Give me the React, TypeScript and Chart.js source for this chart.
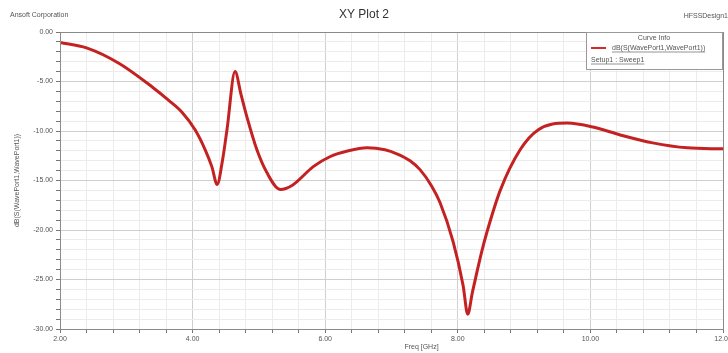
import React, { useEffect, useRef } from "react";
import { Chart, registerables } from "chart.js";

Chart.register(...registerables);

const freqGHz = [2.0, 2.4, 2.9, 3.4, 3.64, 3.84, 4.04, 4.19, 4.29, 4.37, 4.45, 4.52, 4.64, 4.73, 4.82, 4.97, 5.12, 5.32, 5.5, 5.82, 6.07, 6.35, 6.63, 6.9, 7.08, 7.28, 7.43, 7.6, 7.73, 7.93, 8.08, 8.15, 8.22, 8.29, 8.36, 8.44, 8.64, 8.94, 9.21, 9.65, 10.04, 10.45, 10.94, 11.46, 12.0];
const s11dB = [-1.05, -1.6, -3.2, -5.6, -6.9, -8.1, -9.9, -11.9, -13.6, -15.4, -13.0, -9.8, -4.0, -6.3, -8.6, -11.9, -14.2, -15.9, -15.5, -13.6, -12.6, -12.0, -11.7, -11.9, -12.3, -13.0, -13.9, -15.5, -17.2, -21.2, -25.6, -28.5, -26.3, -24.2, -22.2, -20.2, -16.0, -11.9, -9.9, -9.2, -9.6, -10.4, -11.2, -11.7, -11.8];

const chartTitle = "XY Plot 2";
const leftCorner = "Ansoft Corporation";
const rightCorner = "HFSSDesign1";
const seriesName = "dB(S(WavePort1,WavePort1))";
const setupName = "Setup1 : Sweep1";
const legendHeader = "Curve Info";
const xTitle = "Freq [GHz]";
const yTitle = "dB(S(WavePort1,WavePort1))";

const isMult = (v: number, m: number) => Math.abs(v / m - Math.round(v / m)) < 1e-6;

const decor = {
  id: "decor",
  afterDraw(chart: any) {
    const ctx = chart.ctx as CanvasRenderingContext2D;
    const a = chart.chartArea;
    ctx.save();
    ctx.strokeStyle = "#8a8a8a";
    ctx.lineWidth = 1;
    ctx.strokeRect(a.left + 0.5, a.top + 0.5, a.right - a.left, a.bottom - a.top);
    ctx.fillStyle = "#555";
    ctx.font = "7px 'Liberation Sans', Arial, sans-serif";
    ctx.textBaseline = "middle";
    ctx.textAlign = "left";
    ctx.fillText(leftCorner, 10, 15);
    ctx.textAlign = "right";
    ctx.fillText(rightCorner, 728, 16);
    ctx.fillStyle = "#333";
    ctx.font = "12px 'Liberation Sans', Arial, sans-serif";
    ctx.textAlign = "center";
    ctx.fillText(chartTitle, 364, 15);
    ctx.font = "7px 'Liberation Sans', Arial, sans-serif";
    ctx.fillStyle = "#555";
    ctx.fillText(xTitle, (a.left + a.right) / 2 + 30, 347);
    ctx.save();
    ctx.translate(17, (a.top + a.bottom) / 2);
    ctx.rotate(-Math.PI / 2);
    ctx.fillText(yTitle, 0, 0);
    ctx.restore();
    const bx = 586, by = 32, bw = 136, bh = 37;
    ctx.fillStyle = "#fff";
    ctx.fillRect(bx, by, bw, bh);
    ctx.strokeStyle = "#999";
    ctx.strokeRect(bx + 0.5, by + 0.5, bw, bh);
    ctx.fillStyle = "#555";
    ctx.textAlign = "center";
    ctx.fillText(legendHeader, bx + bw / 2, by + 6);
    ctx.strokeStyle = "#d42a2a";
    ctx.lineWidth = 2;
    ctx.beginPath();
    ctx.moveTo(bx + 5, by + 16);
    ctx.lineTo(bx + 20, by + 16);
    ctx.stroke();
    ctx.textAlign = "left";
    ctx.fillStyle = "#555";
    ctx.fillText(seriesName, bx + 26, by + 16);
    let w = ctx.measureText(seriesName).width;
    ctx.lineWidth = 0.7;
    ctx.strokeStyle = "#666";
    ctx.beginPath();
    ctx.moveTo(bx + 26, by + 20);
    ctx.lineTo(bx + 26 + w, by + 20);
    ctx.stroke();
    ctx.fillText(setupName, bx + 5, by + 28);
    w = ctx.measureText(setupName).width;
    ctx.beginPath();
    ctx.moveTo(bx + 5, by + 32);
    ctx.lineTo(bx + 5 + w, by + 32);
    ctx.stroke();
    ctx.restore();
  },
};

export default function App() {
  const ref = useRef<HTMLCanvasElement>(null);
  useEffect(() => {
    document.body.style.margin = "0";
    const chart = new Chart(ref.current!, {
      type: "line",
      data: {
        datasets: [
          {
            label: seriesName,
            data: freqGHz.map((f, i) => ({ x: f, y: s11dB[i] })),
            borderColor: "#c42222",
            borderWidth: 3,
            pointRadius: 0,
            cubicInterpolationMode: "monotone",
          },
        ],
      },
      options: {
        animation: false,
        responsive: false,
        maintainAspectRatio: false,
        layout: { padding: { left: 0, top: 32, right: 5, bottom: 0 } },
        plugins: { legend: { display: false }, tooltip: { enabled: false } },
        scales: {
          x: {
            type: "linear",
            min: 2,
            max: 12,
            afterFit(s: any) {
              s.height = 24;
              s.paddingLeft = 0;
              s.paddingRight = 0;
            },
            ticks: {
              stepSize: 0.4,
              autoSkip: false,
              maxRotation: 0,
              padding: 2,
              color: "#555",
              font: { size: 7, family: "'Liberation Sans', Arial, sans-serif" },
              callback: (v: any) => (isMult(Number(v), 2) ? Number(v).toFixed(2) : ""),
            },
            grid: {
              color: (c: any) => (c.tick && isMult(c.tick.value, 2) ? "#cfcfcf" : "#ececec"),
              tickColor: "#777",
              tickLength: 4,
            },
            border: { color: "#777" },
          },
          y: {
            type: "linear",
            min: -30,
            max: 0,
            afterFit(s: any) {
              s.width = 60;
            },
            ticks: {
              stepSize: 1,
              autoSkip: false,
              padding: 3,
              color: "#555",
              font: { size: 7, family: "'Liberation Sans', Arial, sans-serif" },
              callback: (v: any) => (isMult(Number(v), 5) ? Number(v).toFixed(2) : ""),
            },
            grid: {
              color: (c: any) => (c.tick && isMult(c.tick.value, 5) ? "#cfcfcf" : "#ececec"),
              tickColor: "#777",
              tickLength: 4,
            },
            border: { color: "#777" },
          },
        },
      },
      plugins: [decor],
    } as any);
    return () => chart.destroy();
  }, []);
  return <canvas ref={ref} width={728} height={353} style={{ display: "block" }} />;
}
